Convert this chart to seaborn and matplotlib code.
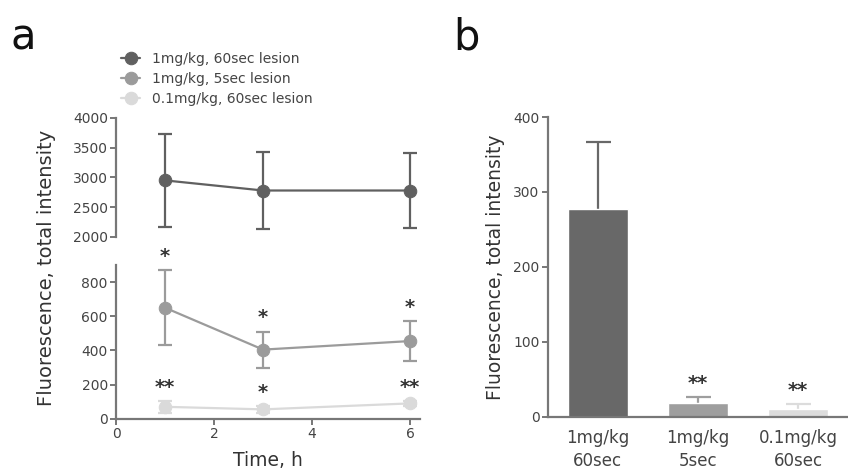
import matplotlib
matplotlib.use("Agg")
import matplotlib.pyplot as plt
import seaborn as sns
import pandas as pd

# panel a: time course
times = [1, 3, 6]
labels_a = ["1mg/kg, 60sec lesion", "1mg/kg, 5sec lesion", "0.1mg/kg, 60sec lesion"]
mean_60s = [2950, 2780, 2780]
err_60s = [780, 640, 630]
mean_5s = [650, 405, 455]
err_5s = [220, 105, 115]
mean_low = [70, 55, 90]
err_low = [35, 20, 15]
stars_5s = ["*", "*", "*"]
stars_low = ["**", "*", "**"]

# panel b: bars
groups = ["1mg/kg\n60sec", "1mg/kg\n5sec", "0.1mg/kg\n60sec"]
bar_vals = [277, 18, 10]
bar_err = [90, 9, 7]
bar_stars = ["", "**", "**"]

colors = ["#606060", "#9b9b9b", "#dadada"]
bar_colors = ["#686868", "#9e9e9e", "#dcdcdc"]

sns.set_style("ticks")
plt.rcParams["font.family"] = ["DejaVu Sans"]
plt.rcParams["axes.edgecolor"] = "#777777"
plt.rcParams["xtick.color"] = "#777777"
plt.rcParams["ytick.color"] = "#777777"
plt.rcParams["xtick.labelcolor"] = "#444444"
plt.rcParams["ytick.labelcolor"] = "#444444"
plt.rcParams["axes.linewidth"] = 1.6

fig = plt.figure(figsize=(8.48, 4.70), dpi=100)
ax_top = fig.add_axes([0.137, 0.496, 0.358, 0.253])
ax_bot = fig.add_axes([0.137, 0.109, 0.358, 0.327])
ax_b = fig.add_axes([0.646, 0.113, 0.354, 0.638])

series = [(mean_60s, err_60s), (mean_5s, err_5s), (mean_low, err_low)]
handles = []
for ax in (ax_top, ax_bot):
    for (m, e), c, lab in zip(series, colors, labels_a):
        sns.lineplot(x=times, y=m, marker="o", color=c, ax=ax, lw=1.6,
                     markersize=9, markeredgecolor=c, legend=False)
        if ax is ax_top:
            handles.append((ax.lines[-1], lab))
        ax.errorbar(times, m, yerr=e, fmt="none", ecolor=c, elinewidth=1.6,
                    capsize=5, capthick=1.6)

ax_top.set_ylim(2000, 4000)
ax_top.set_yticks([2000, 2500, 3000, 3500, 4000])
ax_top.set_xlim(0, 6.2)
ax_top.set_xticks([])
sns.despine(ax=ax_top, bottom=True)

ax_bot.set_ylim(0, 900)
ax_bot.set_yticks([0, 200, 400, 600, 800])
ax_bot.set_xlim(0, 6.2)
ax_bot.set_xticks([0, 2, 4, 6])
sns.despine(ax=ax_bot)

for t, m, e, s in zip(times, mean_5s, err_5s, stars_5s):
    ax_bot.text(t, m + e + 25, s, ha="center", va="bottom", fontsize=14,
                fontweight="bold", color="#333333", clip_on=False)
for t, m, e, s in zip(times, mean_low, err_low, stars_low):
    ax_bot.text(t, m + e + 25, s, ha="center", va="bottom", fontsize=14,
                fontweight="bold", color="#333333", clip_on=False)

for ax in (ax_top, ax_bot):
    ax.tick_params(labelsize=10, length=4, width=1.4, pad=2)

ax_bot.set_xlabel("Time, h", fontsize=13.5, color="#333333", labelpad=7)
fig.text(0.055, 0.43, "Fluorescence, total intensity", rotation=90,
         ha="center", va="center", fontsize=14, color="#333333")

fig.legend([h for h, _ in handles], [l for _, l in handles], loc="upper left",
           bbox_to_anchor=(0.128, 0.917), frameon=False, fontsize=10,
           handlelength=1.4, labelspacing=0.45, labelcolor="#444444")

# panel b
df_b = pd.DataFrame({"group": groups, "value": bar_vals})
sns.barplot(data=df_b, x="group", y="value", hue="group", palette=bar_colors,
            width=0.6, legend=False, ax=ax_b, saturation=1, zorder=2)
for i, (v, e, c) in enumerate(zip(bar_vals, bar_err, bar_colors)):
    # drawn behind the bar so only the upper half shows
    ax_b.errorbar([i], [v], yerr=e, fmt="none", ecolor=c,
                  elinewidth=1.6, capsize=9, capthick=1.6, zorder=1)
for i, (v, e, s) in enumerate(zip(bar_vals, bar_err, bar_stars)):
    if s:
        ax_b.text(i, v + e + 5, s, ha="center", va="bottom", fontsize=14,
                  fontweight="bold", color="#333333")
ax_b.set_xlim(-0.5, 2.5)
ax_b.set_ylim(0, 400)
ax_b.set_yticks([0, 100, 200, 300, 400])
ax_b.set_xlabel("")
ax_b.set_ylabel("Fluorescence, total intensity", fontsize=13.5,
                color="#333333", labelpad=6)
ax_b.tick_params(axis="y", labelsize=10, length=4, width=1.4, pad=2)
ax_b.tick_params(axis="x", labelsize=12, length=0, pad=9)
for lbl in ax_b.get_xticklabels():
    lbl.set_linespacing(1.3)
sns.despine(ax=ax_b)

fig.text(0.012, 0.895, "a", fontsize=30, color="#111111")
fig.text(0.535, 0.895, "b", fontsize=30, color="#111111")

fig.savefig("out.png", dpi=100, facecolor="white")
